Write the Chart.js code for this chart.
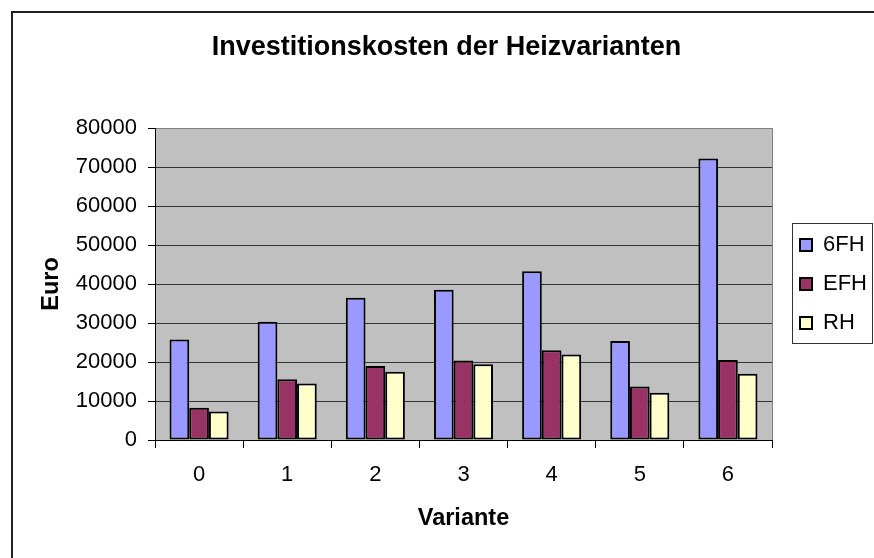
<!DOCTYPE html>
<html>
<head>
<meta charset="utf-8">
<script src="https://cdn.jsdelivr.net/npm/chart.js@4.4.1/dist/chart.umd.min.js"></script>
<style>
    body { margin: 0; background: #fff; }
    #box { width: 874px; height: 558px; }
</style>
</head>
<body>
<div id="box"><canvas id="myChart" width="874" height="558"></canvas></div>
<script>
let varianten = ['0', '1', '2', '3', '4', '5', '6'];
let werte6FH = [25800, 30300, 36500, 38500, 43300, 25400, 72200];
let werteEFH = [8300, 15600, 19000, 20400, 23000, 13700, 20500];
let werteRH = [7300, 14500, 17500, 19400, 21900, 12100, 17000];
let yTicks = [0, 10000, 20000, 30000, 40000, 50000, 60000, 70000, 80000];

let schrift = '"Liberation Sans", Arial, sans-serif';

// grauer Hintergrund, Rahmen, Legendenkasten
let excelLook = {
    id: 'excelLook',
    beforeDraw: function (chart) {
        let c = chart.ctx;
        let a = chart.chartArea;
        c.save();
        c.fillStyle = '#fff';
        c.fillRect(0, 0, chart.width, chart.height);
        c.fillStyle = '#C0C0C0';
        c.fillRect(a.left, a.top, a.right - a.left, a.bottom - a.top);
        c.restore();
    },
    afterLayout: function (chart) {
        let lg = chart.legend;
        let shift = 800 - (lg.left + lg.options.labels.padding);
        lg.left += shift;
        lg.right += shift;
    },
    afterDraw: function (chart) {
        let c = chart.ctx;
        let a = chart.chartArea;
        c.save();
        c.strokeStyle = '#808080';
        c.lineWidth = 1;
        c.beginPath();
        c.moveTo(a.right + 0.5, a.top);
        c.lineTo(a.right + 0.5, a.bottom);
        c.stroke();

        c.strokeStyle = '#222';
        c.lineWidth = 2;
        c.beginPath();
        c.moveTo(12, chart.height);
        c.lineTo(12, 12);
        c.lineTo(chart.width, 12);
        c.stroke();

        let hb = chart.legend.legendHitBoxes;
        if (hb && hb.length) {
            let l = hb[0].left - 8;
            let t = hb[0].top - 11;
            let r = 0;
            hb.forEach(function (h) { r = Math.max(r, h.left + h.width); });
            let last = hb[hb.length - 1];
            let b = last.top + last.height + 9;
            c.strokeStyle = '#333';
            c.lineWidth = 1;
            c.strokeRect(Math.round(l) + 0.5, Math.round(t) + 0.5, Math.round(r + 5 - l), Math.round(b - t));
        }
        c.restore();
    }
};

let ctx = document.getElementById('myChart');
let myChart = new Chart(ctx, {
    type: 'bar',
    data: {
        labels: varianten,
        datasets: [{
            label: '6FH',
            data: werte6FH,
            backgroundColor: '#9999FF',
            borderColor: '#000',
            borderWidth: 2,
            borderSkipped: false
        }, {
            label: 'EFH',
            data: werteEFH,
            backgroundColor: '#993366',
            borderColor: '#000',
            borderWidth: 2,
            borderSkipped: false
        }, {
            label: 'RH',
            data: werteRH,
            backgroundColor: '#FFFFCC',
            borderColor: '#000',
            borderWidth: 2,
            borderSkipped: false
        }]
    },
    options: {
        responsive: false,
        animation: false,
        layout: { padding: { left: 27, right: 8, top: 0, bottom: 0 } },
        datasets: {
            bar: { categoryPercentage: 0.67, barPercentage: 1 }
        },
        plugins: {
            title: {
                display: true,
                text: 'Investitionskosten der Heizvarianten',
                color: '#000',
                font: { family: schrift, size: 27, weight: 'bold' },
                padding: { top: 31, bottom: 64.6 }
            },
            legend: {
                position: 'right',
                fullSize: false,
                labels: {
                    color: '#000',
                    font: { family: schrift, size: 22 },
                    boxWidth: 12,
                    boxHeight: 12,
                    padding: 17
                }
            },
            tooltip: { enabled: false }
        },
        scales: {
            x: {
                grid: {
                    display: true,
                    drawOnChartArea: false,
                    offset: true,
                    tickLength: 8,
                    tickColor: '#000'
                },
                border: { display: true, color: '#000', width: 1 },
                ticks: {
                    color: '#000',
                    font: { family: schrift, size: 22 },
                    padding: 14,
                    maxRotation: 0
                },
                title: {
                    display: true,
                    text: 'Variante',
                    color: '#000',
                    font: { family: schrift, size: 23.5, weight: 'bold' },
                    padding: { top: 0, bottom: 25 }
                },
                afterFit: function (scale) { scale.height = 118; }
            },
            y: {
                min: 0,
                max: 80000,
                afterBuildTicks: function (scale) {
                    scale.ticks = yTicks.map(function (v) { return { value: v }; });
                },
                grid: {
                    color: function (c) { return c.tick && c.tick.value === 80000 ? '#808080' : '#333'; },
                    lineWidth: 1,
                    tickLength: 7,
                    tickColor: '#000'
                },
                border: { display: true, color: '#000', width: 1 },
                ticks: {
                    color: '#000',
                    font: { family: schrift, size: 22 },
                    padding: 11,
                    callback: function (v) { return String(v); }
                },
                title: {
                    display: true,
                    text: 'Euro',
                    color: '#000',
                    font: { family: schrift, size: 23.5, weight: 'bold' },
                    padding: { top: 10, bottom: 0 }
                },
                afterFit: function (scale) { scale.width = 128; }
            }
        }
    },
    plugins: [excelLook]
});
</script>
</body>
</html>
